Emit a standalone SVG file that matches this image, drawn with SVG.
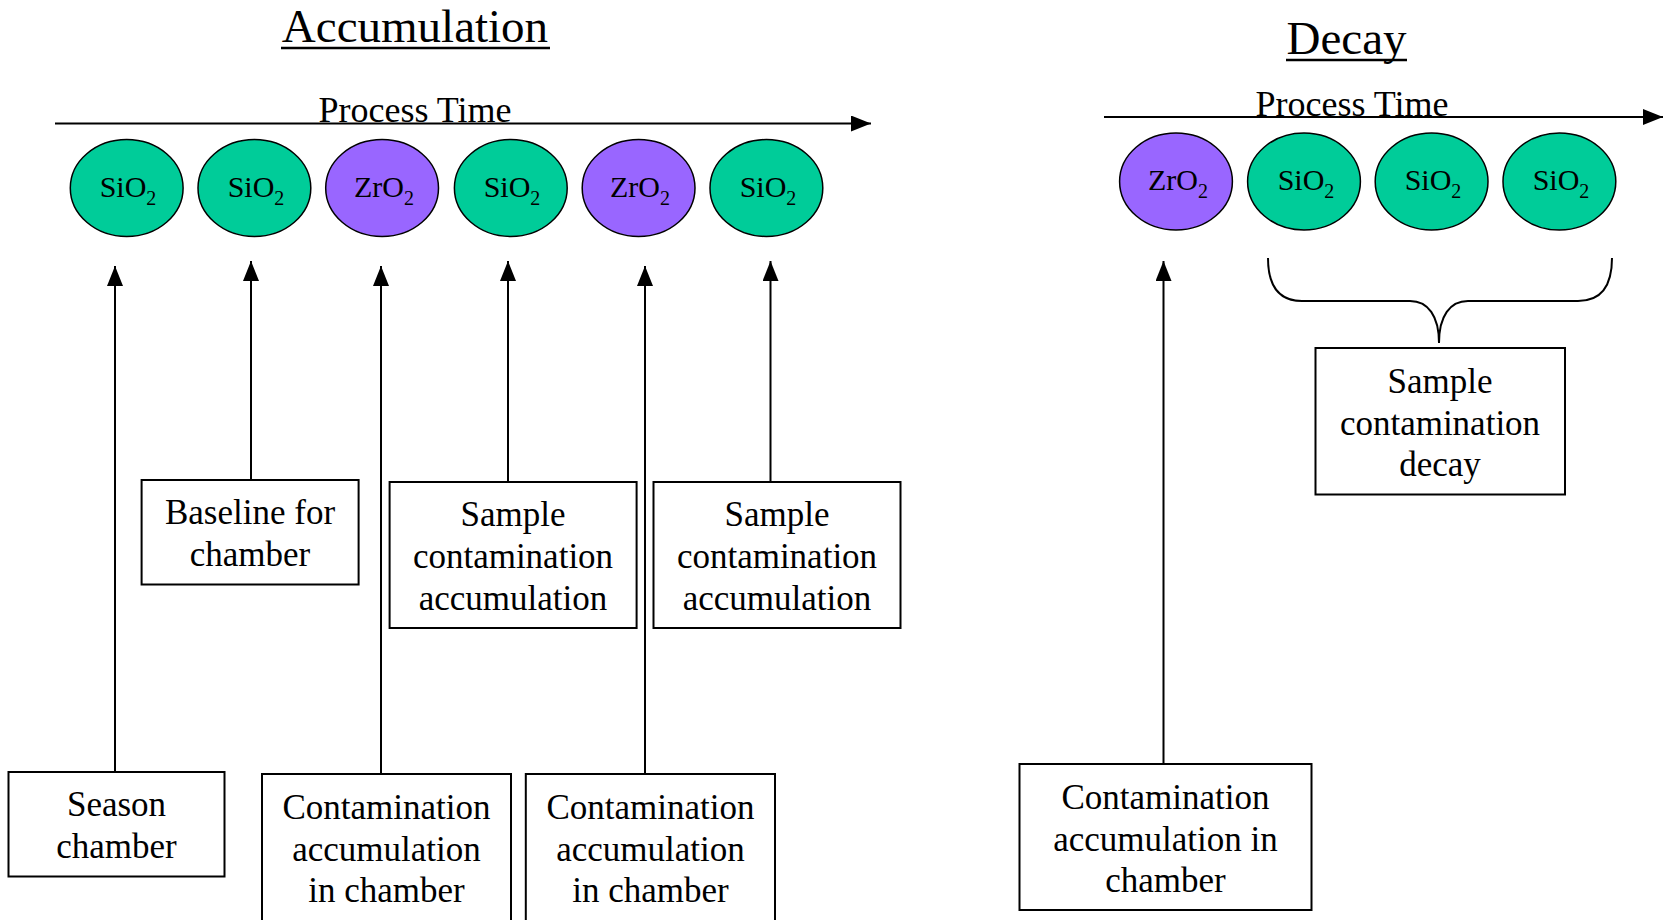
<svg xmlns="http://www.w3.org/2000/svg" width="1669" height="920" viewBox="0 0 1669 920">
<defs>
<style>
.t{font-family:"Liberation Serif","Times New Roman",serif;fill:#000;text-anchor:middle}
.title{font-size:47px}
.pt{font-size:36px}
.lbl{font-size:30px}
.sub{font-size:20px}
.bt{font-size:35px}
.box{fill:#fff;stroke:#000;stroke-width:2}
.si{fill:#00CC99;stroke:#000;stroke-width:1.5}
.zr{fill:#9966FF;stroke:#000;stroke-width:1.5}
.ln{stroke:#000;stroke-width:2;fill:none}
</style>
<marker id="ah" markerUnits="userSpaceOnUse" markerWidth="20" markerHeight="16" refX="20" refY="8" orient="auto">
<path d="M0,0 L20,8 L0,16 Z" fill="#000"/>
</marker>
</defs>
<rect width="1669" height="920" fill="#fff"/>

<g id="titles">
<text class="t title" x="415" y="42">Accumulation</text>
<line x1="281" y1="48" x2="550" y2="48" stroke="#000" stroke-width="2.5"/>
<text class="t title" x="1346.5" y="54">Decay</text>
<line x1="1286" y1="60" x2="1407" y2="60" stroke="#000" stroke-width="2.5"/>
<text class="t pt" x="415" y="122">Process Time</text>
<text class="t pt" x="1352" y="116">Process Time</text>
</g>

<g id="connectors">
<line class="ln" x1="55" y1="123.5" x2="871" y2="123.5" marker-end="url(#ah)"/>
<line class="ln" x1="1104" y1="117" x2="1663" y2="117" marker-end="url(#ah)"/>
<line class="ln" x1="115" y1="772" x2="115" y2="266" marker-end="url(#ah)"/>
<line class="ln" x1="251" y1="480" x2="251" y2="261" marker-end="url(#ah)"/>
<line class="ln" x1="381" y1="774" x2="381" y2="266" marker-end="url(#ah)"/>
<line class="ln" x1="508" y1="482" x2="508" y2="261" marker-end="url(#ah)"/>
<line class="ln" x1="645" y1="774" x2="645" y2="266" marker-end="url(#ah)"/>
<line class="ln" x1="770.5" y1="482" x2="770.5" y2="261" marker-end="url(#ah)"/>
<line class="ln" x1="1163.5" y1="764" x2="1163.5" y2="261" marker-end="url(#ah)"/>
<path class="ln" d="M1268,258 C1268,288 1280,301 1302,301 L1410,301 C1428,301 1439,316 1439,343 C1439,316 1450,301 1468,301 L1578,301 C1600,301 1612,288 1612,258"/>
</g>

<g id="e1"><ellipse class="si" cx="126.7" cy="188" rx="56.4" ry="48.5"/><text class="t lbl" x="128" y="197">SiO<tspan class="sub" dy="8">2</tspan></text></g>
<g id="e2"><ellipse class="si" cx="254.4" cy="188" rx="56.4" ry="48.5"/><text class="t lbl" x="256" y="197">SiO<tspan class="sub" dy="8">2</tspan></text></g>
<g id="e3"><ellipse class="zr" cx="382.1" cy="188" rx="56.4" ry="48.5"/><text class="t lbl" x="384" y="197">ZrO<tspan class="sub" dy="8">2</tspan></text></g>
<g id="e4"><ellipse class="si" cx="510.8" cy="188" rx="56.4" ry="48.5"/><text class="t lbl" x="512" y="197">SiO<tspan class="sub" dy="8">2</tspan></text></g>
<g id="e5"><ellipse class="zr" cx="638.6" cy="188" rx="56.4" ry="48.5"/><text class="t lbl" x="640" y="197">ZrO<tspan class="sub" dy="8">2</tspan></text></g>
<g id="e6"><ellipse class="si" cx="766.4" cy="188" rx="56.4" ry="48.5"/><text class="t lbl" x="768" y="197">SiO<tspan class="sub" dy="8">2</tspan></text></g>

<g id="d1"><ellipse class="zr" cx="1176" cy="181.5" rx="56.4" ry="48.5"/><text class="t lbl" x="1178" y="190">ZrO<tspan class="sub" dy="8">2</tspan></text></g>
<g id="d2"><ellipse class="si" cx="1304" cy="181.5" rx="56.4" ry="48.5"/><text class="t lbl" x="1306" y="190">SiO<tspan class="sub" dy="8">2</tspan></text></g>
<g id="d3"><ellipse class="si" cx="1431.6" cy="181.5" rx="56.4" ry="48.5"/><text class="t lbl" x="1433" y="190">SiO<tspan class="sub" dy="8">2</tspan></text></g>
<g id="d4"><ellipse class="si" cx="1559.4" cy="181.5" rx="56.4" ry="48.5"/><text class="t lbl" x="1561" y="190">SiO<tspan class="sub" dy="8">2</tspan></text></g>

<g id="b-season"><rect class="box" x="8.5" y="772" width="216" height="104.5"/>
<text class="t bt" x="116.5" y="816">Season</text><text class="t bt" x="116.5" y="858">chamber</text></g>

<g id="b-baseline"><rect class="box" x="141.6" y="480" width="217" height="104.5"/>
<text class="t bt" x="250" y="524">Baseline for</text><text class="t bt" x="250" y="566">chamber</text></g>

<g id="b-contam1"><rect class="box" x="262" y="774" width="249" height="160"/>
<text class="t bt" x="386.5" y="819">Contamination</text><text class="t bt" x="386.5" y="861">accumulation</text><text class="t bt" x="386.5" y="902">in chamber</text></g>

<g id="b-sample1"><rect class="box" x="389.6" y="482" width="247" height="146"/>
<text class="t bt" x="513" y="526">Sample</text><text class="t bt" x="513" y="568">contamination</text><text class="t bt" x="513" y="610">accumulation</text></g>

<g id="b-contam2"><rect class="box" x="525.8" y="774" width="249.2" height="160"/>
<text class="t bt" x="650.4" y="819">Contamination</text><text class="t bt" x="650.4" y="861">accumulation</text><text class="t bt" x="650.4" y="902">in chamber</text></g>

<g id="b-sample2"><rect class="box" x="653.5" y="482" width="247" height="146"/>
<text class="t bt" x="777" y="526">Sample</text><text class="t bt" x="777" y="568">contamination</text><text class="t bt" x="777" y="610">accumulation</text></g>

<g id="b-contam3"><rect class="box" x="1019.5" y="764" width="292" height="146"/>
<text class="t bt" x="1165.5" y="809">Contamination</text><text class="t bt" x="1165.5" y="851">accumulation in</text><text class="t bt" x="1165.5" y="892">chamber</text></g>

<g id="b-decay"><rect class="box" x="1315.5" y="348" width="249.5" height="146.5"/>
<text class="t bt" x="1440" y="393">Sample</text><text class="t bt" x="1440" y="435">contamination</text><text class="t bt" x="1440" y="476">decay</text></g>
</svg>
